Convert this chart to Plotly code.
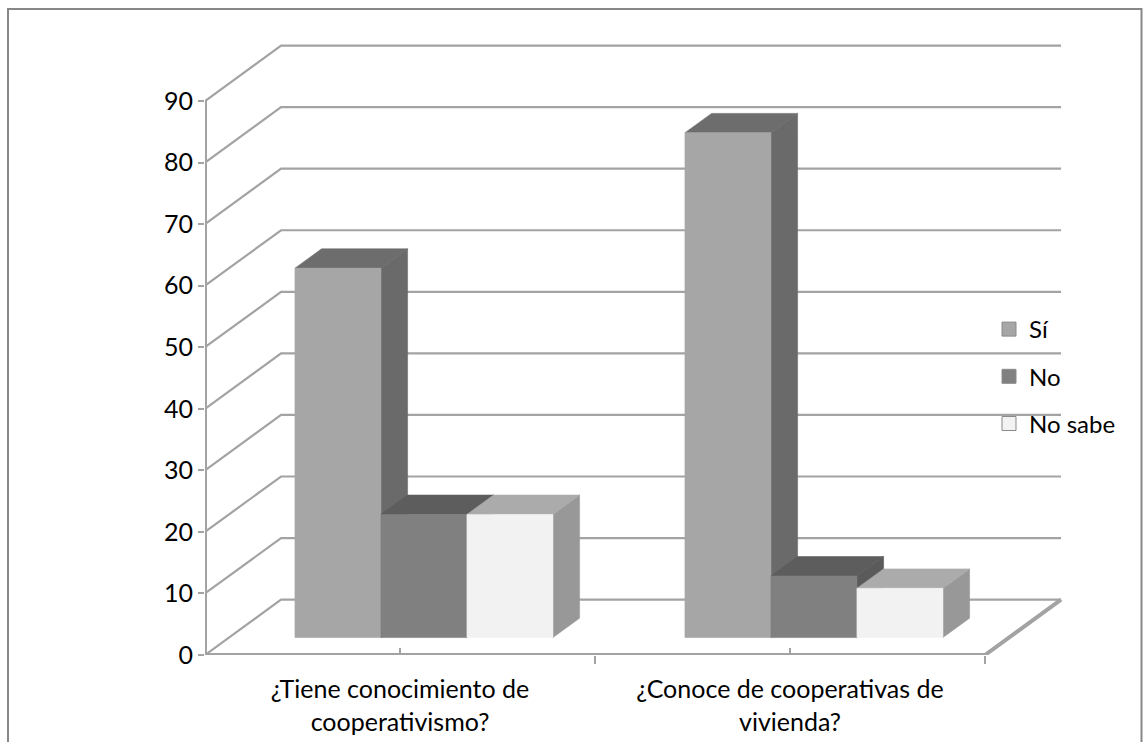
import plotly.graph_objects as go

# Survey answers per question (percent of respondents)
CATEGORIES = ["¿Tiene conocimiento de<br>cooperativismo?", "¿Conoce de cooperativas de<br>vivienda?"]
SERIES = ["Sí", "No", "No sabe"]
SI_VALUES = [60, 82]
NO_VALUES = [20, 10]
NO_SABE_VALUES = [20, 8]
Y_TICKS = [0, 10, 20, 30, 40, 50, 60, 70, 80, 90]

VALUES = {"Sí": SI_VALUES, "No": NO_VALUES, "No sabe": NO_SABE_VALUES}

# Shading of each box: front, top and right-hand faces
FRONT = {"Sí": "#a6a6a6", "No": "#808080", "No sabe": "#f2f2f2"}
TOP = {"Sí": "#6d6d6d", "No": "#5d5d5d", "No sabe": "#ababab"}
SIDE = {"Sí": "#6a6a6a", "No": "#5a5a5a", "No sabe": "#989898"}
GRID = "#a3a3a3"

# Oblique projection: full depth of the floor in data units
DX, DY = 0.195, 9.0
D0 = 0.315      # depth at which the bar fronts sit
DB = 0.35       # depth of each box
BAR_W = 0.2205  # width of a bar in category units

# Pixel layout of the figure
W, H = 1145, 742
PX_LEFT, PX_RIGHT = 205, 1070
PX_BOTTOM, PX_TOP = 655, 40
PX_PER_CAT = 390
PX_PER_UNIT = (655 - 101) / 90

fig = go.Figure()

# Back wall gridlines with their diagonal returns to the front axis
gx, gy = [], []
for v in Y_TICKS:
    gx += [0, DX, len(CATEGORIES) + DX, None]
    gy += [v, v + DY, v + DY, None]
fig.add_trace(go.Scatter(x=gx, y=gy, mode="lines", line=dict(color=GRID, width=2.2),
                         hoverinfo="skip", showlegend=False))

# Floor front edge, right edge and the vertical value axis
n = len(CATEGORIES)
fig.add_trace(go.Scatter(x=[0, n, n + DX], y=[0, 0, DY], mode="lines",
                         line=dict(color=GRID, width=4), hoverinfo="skip", showlegend=False))
fig.add_trace(go.Scatter(x=[0, 0], y=[0, Y_TICKS[-1]], mode="lines",
                         line=dict(color=GRID, width=4), hoverinfo="skip", showlegend=False))


def poly(xs, ys, color):
    fig.add_trace(go.Scatter(x=xs + [xs[0]], y=ys + [ys[0]], mode="lines", fill="toself",
                             fillcolor=color, line=dict(color=color, width=0.6),
                             hoverinfo="skip", showlegend=False))


ddx, ddy = DB * DX, DB * DY
base = D0 * DY
for gi in range(n):
    cx = gi + 0.5 + D0 * DX
    for si, name in enumerate(SERIES):
        v = VALUES[name][gi]
        x0 = cx + (si - 1.5) * BAR_W
        x1 = x0 + BAR_W
        top = base + v
        poly([x1, x1 + ddx, x1 + ddx, x1], [base, base + ddy, top + ddy, top], SIDE[name])
        poly([x0, x1, x1 + ddx, x0 + ddx], [top, top, top + ddy, top + ddy], TOP[name])
        poly([x0, x1, x1, x0], [base, base, top, top], FRONT[name])

# Legend entries
for name in SERIES:
    fig.add_trace(go.Scatter(x=[None], y=[None], mode="markers", name=name,
                             legendgroup=name,
                             marker=dict(symbol="square", size=14, color=FRONT[name],
                                         line=dict(color="#8a8a8a", width=1))))

FONT = "Lato, Liberation Sans, sans-serif"
FS = 25
x_max = (PX_RIGHT - PX_LEFT) / PX_PER_CAT
y_max = (PX_BOTTOM - PX_TOP) / PX_PER_UNIT

fig.update_layout(
    width=W, height=H, autosize=False,
    margin=dict(l=0, r=0, t=0, b=0, autoexpand=False),
    paper_bgcolor="white", plot_bgcolor="rgba(0,0,0,0)",
    font=dict(family=FONT, size=FS, color="#000000"),
    xaxis=dict(domain=[PX_LEFT / W, PX_RIGHT / W], range=[0, x_max], automargin=False,
               showgrid=False, zeroline=False, showline=False,
               tickmode="array", tickvals=[i + 0.5 for i in range(n)], ticktext=CATEGORIES,
               ticks="inside", ticklen=7, tickwidth=2, tickcolor=GRID,
               ticklabelstandoff=17,
               minor=dict(tickmode="array", tickvals=list(range(n + 1)), ticks="outside",
                          ticklen=8, tickwidth=2, tickcolor=GRID, showgrid=False),
               tickfont=dict(family=FONT, size=FS), fixedrange=True),
    yaxis=dict(domain=[(H - PX_BOTTOM) / H, (H - PX_TOP) / H], range=[0, y_max],
               automargin=False,
               showgrid=False, zeroline=False, showline=False,
               tickmode="array", tickvals=Y_TICKS,
               ticks="outside", ticklen=6, tickwidth=2, tickcolor=GRID,
               tickfont=dict(family=FONT, size=FS), fixedrange=True),
    legend=dict(x=989 / W, y=(H - 307) / H, xanchor="left", yanchor="top",
                bgcolor="rgba(0,0,0,0)", font=dict(family=FONT, size=24),
                tracegroupgap=13, traceorder="grouped"),
    shapes=[dict(type="rect", xref="paper", yref="paper",
                 x0=8 / W, x1=1141.5 / W, y0=-0.05, y1=(H - 9) / H,
                 line=dict(color="#878787", width=2), fillcolor="rgba(0,0,0,0)")],
)

fig.write_html("out.html")
